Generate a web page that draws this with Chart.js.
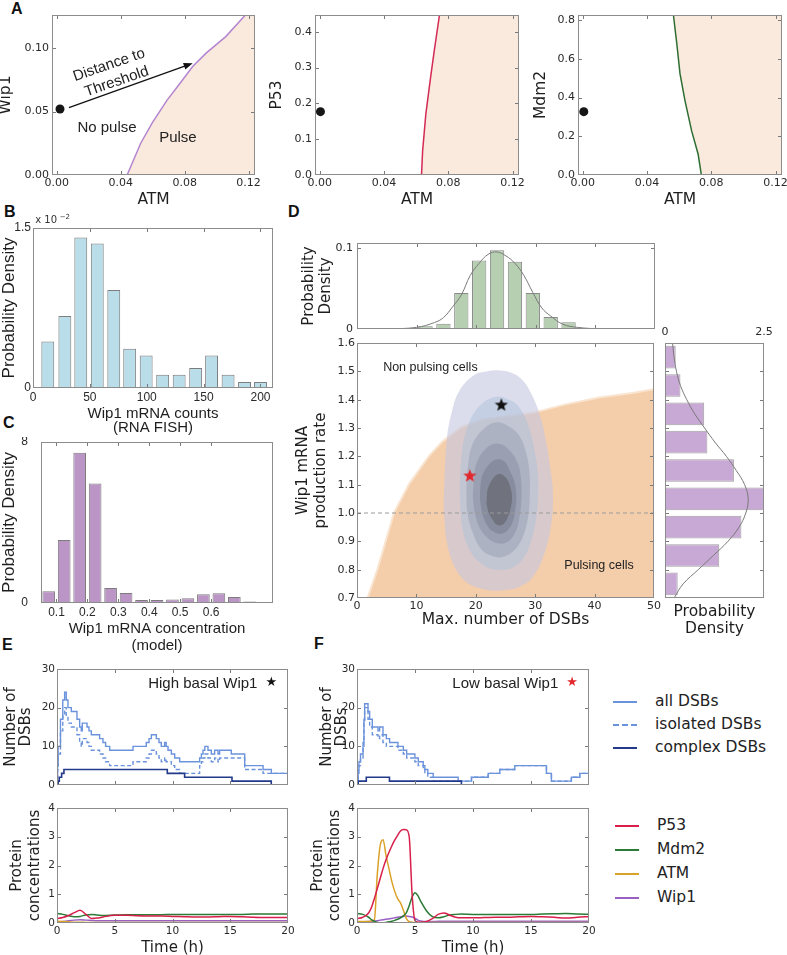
<!DOCTYPE html>
<html>
<head>
<meta charset="utf-8">
<title>Wip1 basal level and DSB pulses</title>
<script src="https://cdn.jsdelivr.net/npm/chart.js@4.4.1/dist/chart.umd.min.js"></script>
<style>
  body { margin: 0; background: #fff; }
  #page { position: relative; width: 787px; height: 955px; overflow: hidden; font-family: "DejaVu Sans", sans-serif; }
  #page canvas { position: absolute; }
  .tag { position: absolute; font: bold 16px "Liberation Sans", Arial, sans-serif; line-height: 16px; color: #111; }
  .key { position: absolute; font-size: 15.5px; color: #222; }
  .key div { line-height: 23px; height: 23px; white-space: nowrap; }
  .key span { display: inline-block; width: 24px; height: 0; vertical-align: middle; margin-right: 18px; }
  .key.prot div { line-height: 24px; height: 24px; }
</style>
</head>
<body>
<div id="page">
  <div class="tag" style="left:11px;top:1px">A</div>
  <div class="tag" style="left:4px;top:204px">B</div>
  <div class="tag" style="left:3px;top:415px">C</div>
  <div class="tag" style="left:288px;top:204px">D</div>
  <div class="tag" style="left:2px;top:637px">E</div>
  <div class="tag" style="left:314px;top:636px">F</div>

  <div class="key" style="left:613px;top:690px">
    <div><span style="border-top:2px solid #6b93dc"></span>all DSBs</div>
    <div><span style="border-top:2px dashed #6b93dc"></span>isolated DSBs</div>
    <div><span style="border-top:2.5px solid #23398a"></span>complex DSBs</div>
  </div>
  <div class="key prot" style="left:615px;top:813px">
    <div><span style="border-top:2.5px solid #d81e4a"></span>P53</div>
    <div><span style="border-top:2.5px solid #2b7a35"></span>Mdm2</div>
    <div><span style="border-top:2.5px solid #dba22a"></span>ATM</div>
    <div><span style="border-top:2.5px solid #9a5fc4"></span>Wip1</div>
  </div>
</div>

<script>
// ---------- A: pulse threshold in each ATM plane ----------
const atmTicks = [0, 0.04, 0.08, 0.12];
const atmRange = [-0.003, 0.124];
const thrAtmWip1 = [0.044, 0.0525, 0.0597, 0.069, 0.077, 0.085, 0.0934, 0.1057, 0.118];
const thrWip1 = [0, 0.025, 0.041, 0.059, 0.072, 0.0855, 0.096, 0.109, 0.126];
const thrAtmP53 = [0.0633, 0.064, 0.066, 0.069, 0.0713, 0.0745];
const thrP53 = [0, 0.067, 0.17, 0.274, 0.349, 0.447];
const thrAtmMdm2 = [0.0738, 0.0718, 0.0677, 0.0636, 0.0605, 0.0585, 0.0564];
const thrMdm2 = [0, 0.107, 0.229, 0.384, 0.523, 0.679, 0.826];
const basalAtm = [0.002, 0.0004, 0.0006];
const basalLevel = [0.052, 0.177, 0.327];
const arrowFrom = [0.0076, 0.053];
const arrowTo = [0.085, 0.088];

// ---------- B: RNA FISH counts ----------
const fishCounts = [13, 28, 42, 56.5, 71, 85, 99.5, 114, 128.5, 143, 157, 171.5, 186, 200];
const fishDensity = [0.436, 0.675, 1.41, 1.354, 0.918, 0.367, 0.305, 0.125, 0.125, 0.187, 0.305, 0.125, 0.056, 0.056];
const fishTicks = [0, 50, 100, 150, 200];

// ---------- C: model concentration ----------
const modelConc = [0.075, 0.125, 0.175, 0.225, 0.275, 0.325, 0.375, 0.425, 0.475, 0.525, 0.575, 0.625, 0.675, 0.725];
const modelDensity = [0.58, 3.13, 7.46, 5.94, 0.74, 0.5, 0.15, 0.15, 0.18, 0.23, 0.43, 0.48, 0.3, 0.07];
const concTicks = [0.1, 0.2, 0.3, 0.4, 0.5, 0.6];

// ---------- D: DSBs vs Wip1 production rate ----------
const dsbBins = [11.5, 14.5, 17.5, 20.5, 23.5, 26.5, 29.5, 32.5, 35.5];
const dsbDensity = [0.0033, 0.0066, 0.0444, 0.0844, 0.097, 0.083, 0.0444, 0.0148, 0.0082];
const dsbFitX = [5, 10, 13, 14.5, 16, 17.5, 19, 20.5, 22, 23.5, 25, 26.5, 28, 29.5, 31, 32.5, 34.5, 37, 41, 50];
const dsbFitY = [0, 0.002, 0.008, 0.014, 0.027, 0.042, 0.066, 0.081, 0.092, 0.095, 0.09, 0.081, 0.066, 0.045, 0.026, 0.016, 0.006, 0.002, 0.0003, 0];
const rateBins = [0.75, 0.85, 0.95, 1.05, 1.15, 1.25, 1.35, 1.45, 1.55];
const rateDensity = [0.32, 1.37, 1.93, 2.5, 1.74, 1.07, 0.99, 0.39, 0.27];
const rateFitY = [0.7, 0.75, 0.8, 0.85, 0.9, 0.95, 1.0, 1.05, 1.1, 1.15, 1.2, 1.25, 1.3, 1.35, 1.4, 1.45, 1.5, 1.55, 1.6];
const rateFitX = [0.23, 0.46, 0.84, 1.22, 1.59, 1.87, 2.04, 2.1, 2.01, 1.8, 1.55, 1.26, 1.0, 0.75, 0.55, 0.39, 0.29, 0.23, 0.19];
const pulseEdgeX = [1.96, 3.6, 5.0, 6.4, 8.9, 12.3, 14.5, 17.6, 21.2, 29.6, 35.2, 40.8, 46.4, 50];
const pulseEdgeY = [0.7, 0.8, 0.9, 1.0, 1.1, 1.2, 1.25, 1.3, 1.327, 1.35, 1.38, 1.404, 1.42, 1.433];
const kde1X = [14.6, 15.1, 16.0, 17.2, 19.6, 22, 24, 26, 27.8, 29.6, 31.0, 31.8, 32.6, 33, 32.7, 31.6, 29.6, 27.4, 25.1, 22.8, 20.5, 18.5, 17.3, 16.0, 15.1, 14.7, 14.6];
const kde1Y = [1.056, 1.256, 1.36, 1.43, 1.485, 1.5, 1.503, 1.495, 1.47, 1.41, 1.33, 1.256, 1.15, 1.06, 0.96, 0.86, 0.774, 0.74, 0.728, 0.726, 0.735, 0.755, 0.78, 0.83, 0.9, 0.98, 1.056];
const kde2X = [17.3, 17.7, 18.4, 19.6, 21, 22.5, 24, 25.5, 26.8, 28, 29, 29.8, 30.4, 30.5, 30.2, 29.3, 28, 26, 24, 22.2, 20.7, 19.2, 17.9, 17.4, 17.3];
const kde2Y = [1.115, 1.22, 1.29, 1.35, 1.385, 1.405, 1.41, 1.4, 1.386, 1.35, 1.3, 1.23, 1.15, 1.07, 0.986, 0.9, 0.84, 0.805, 0.8, 0.805, 0.825, 0.86, 0.93, 1.02, 1.115];
const kde3X = [18.4, 18.7, 19.5, 21.5, 23.5, 25.6, 27.4, 28.5, 29, 29.1, 28.8, 27.8, 26.3, 24.5, 22.9, 21, 19.5, 18.6, 18.4];
const kde3Y = [1.08, 1.17, 1.245, 1.3, 1.32, 1.305, 1.27, 1.21, 1.15, 1.07, 0.986, 0.91, 0.865, 0.845, 0.847, 0.87, 0.93, 1.0, 1.08];
const kde4X = [19.5, 19.7, 20.1, 21.6, 23.5, 25.5, 27.1, 27.6, 27.7, 27.4, 26.8, 25.5, 24, 22.4, 20.9, 19.9, 19.5];
const kde4Y = [1.056, 1.12, 1.174, 1.225, 1.245, 1.225, 1.174, 1.12, 1.056, 0.99, 0.939, 0.9, 0.892, 0.905, 0.939, 0.995, 1.056];
const kde5X = [20.7, 20.8, 21.2, 22.4, 23.7, 24.9, 25.7, 26.5, 26.8, 26.7, 26.3, 25.4, 24.3, 23.1, 22.1, 21.2, 20.7];
const kde5Y = [1.045, 1.1, 1.138, 1.175, 1.19, 1.18, 1.15, 1.11, 1.068, 1.02, 0.974, 0.94, 0.927, 0.933, 0.951, 0.99, 1.045];
const kde6X = [21.8, 21.9, 22.1, 23, 23.9, 24.8, 25.4, 25.9, 26.1, 25.9, 25.4, 24.7, 24, 23.4, 22.9, 22.2, 21.8];
const kde6Y = [1.033, 1.07, 1.09, 1.125, 1.138, 1.13, 1.115, 1.085, 1.056, 1.02, 0.986, 0.962, 0.956, 0.96, 0.974, 1.0, 1.033];
const starDsb = [24.3, 19.0];
const starRate = [1.383, 1.133];
const rateTicks = [0.7, 0.8, 0.9, 1.0, 1.1, 1.2, 1.3, 1.4, 1.5, 1.6];
const dsbTicks = [0, 10, 20, 30, 40, 50];

// ---------- E/F: DSB counts over time ----------
const eStepT = [0, 0.05, 0.1, 0.3, 0.5, 0.66, 0.8, 0.95, 1.24, 1.73, 1.96, 2.1, 2.19, 2.6, 2.77, 2.97, 3.69, 3.98, 4.21, 4.56, 6.58, 7.73, 7.97, 8.17, 8.6, 8.83, 9.03, 9.32, 9.45, 9.61, 9.9, 10.19, 10.62, 12.35, 12.5, 12.64, 12.8, 13.07, 13.36, 13.65, 13.94, 14.08, 15.09, 16.25, 17.84, 18.56, 20];
const eAll = [0, 5, 10, 17, 22, 24, 22, 20, 19, 17, 15, 14, 16, 15, 14, 13, 12, 11, 10, 9, 10, 11, 12, 13, 12, 11, 10, 11, 10, 9, 8, 7, 6, 7, 8, 9, 10, 9, 8, 9, 8, 9, 8, 5, 4, 3, 3];
const eIso = [0, 4, 8, 14, 18, 20, 18, 16, 15, 13, 11, 10, 12, 11, 10, 9, 8, 7, 6, 5, 6, 7, 8, 9, 8, 7, 6, 7, 6, 6, 5, 4, 3, 5, 6, 7, 8, 7, 6, 7, 6, 7, 7, 4, 3, 3, 3];
const eCxT = [0, 0.1, 0.2, 0.4, 0.6, 9.55, 11.05, 15.15, 18.55, 20];
const eCx = [0, 1, 2, 3, 4, 3, 2, 1, 0, 0];
const fStepT = [0, 0.1, 0.17, 0.3, 0.52, 0.6, 0.66, 0.95, 1.09, 1.32, 1.81, 1.95, 2.24, 2.53, 2.81, 3.53, 3.99, 4.28, 4.99, 5.28, 5.71, 5.85, 6.1, 6.57, 8.72, 9.87, 11.31, 12.31, 13.6, 16.33, 16.76, 18.48, 19.2, 20];
const fAll = [0, 4, 6, 8, 11, 17, 21, 19, 17, 15, 14, 15, 13, 12, 11, 10, 9, 8, 7, 6, 5, 4, 3, 2, 1, 2, 3, 4, 5, 3, 1, 2, 3, 3];
const fIso = [0, 3, 5, 7, 10, 16, 20, 17, 15, 13, 12, 13, 11, 10, 10, 9, 8, 7, 6, 5, 4, 3, 2, 1, 1, 2, 3, 4, 5, 3, 1, 2, 3, 3];
const fCxT = [0, 0.1, 0.8, 2.8, 9.0, 20];
const fCx = [0, 1, 2, 1, 0, 0];

// ---------- E/F: protein concentrations ----------
const eTime = [0, 0.5, 1, 1.5, 2, 2.5, 3, 3.5, 4, 5, 6, 7, 8, 9, 10, 11, 12, 13, 14, 15, 16, 17, 18, 19, 20];
const eP53 = [0.15, 0.19, 0.26, 0.36, 0.44, 0.3, 0.16, 0.17, 0.21, 0.27, 0.27, 0.25, 0.24, 0.24, 0.23, 0.22, 0.21, 0.21, 0.22, 0.23, 0.22, 0.2, 0.19, 0.19, 0.19];
const eMdm2 = [0.33, 0.3, 0.25, 0.22, 0.23, 0.28, 0.3, 0.28, 0.26, 0.28, 0.29, 0.29, 0.29, 0.29, 0.3, 0.3, 0.3, 0.3, 0.3, 0.3, 0.3, 0.31, 0.31, 0.31, 0.31];
const eAtm = [0.06, 0.05, 0.04, 0.03, 0.03, 0.02, 0.02, 0.02, 0.02, 0.02, 0.02, 0.02, 0.02, 0.02, 0.02, 0.02, 0.02, 0.02, 0.02, 0.02, 0.02, 0.02, 0.02, 0.02, 0.02];
const eWip1 = [0.03, 0.05, 0.08, 0.1, 0.11, 0.1, 0.09, 0.08, 0.08, 0.08, 0.08, 0.08, 0.08, 0.08, 0.08, 0.08, 0.08, 0.08, 0.08, 0.08, 0.08, 0.08, 0.08, 0.08, 0.08];
const fTime = [0, 0.5, 1, 1.25, 1.5, 1.75, 2, 2.25, 2.5, 2.75, 3, 3.25, 3.5, 3.75, 4, 4.25, 4.5, 4.75, 5, 5.25, 5.5, 6, 6.5, 7, 7.5, 8, 8.5, 9, 10, 11, 12, 13, 14, 15, 16, 17, 18, 19, 20];
const fP53 = [0.15, 0.2, 0.35, 0.55, 0.85, 1.2, 1.55, 1.9, 2.2, 2.45, 2.68, 2.88, 3.05, 3.2, 3.25, 3.24, 3.0, 1.0, 0.08, 0.03, 0.03, 0.05, 0.15, 0.3, 0.35, 0.27, 0.2, 0.18, 0.18, 0.19, 0.2, 0.2, 0.22, 0.23, 0.22, 0.2, 0.17, 0.2, 0.22];
const fMdm2 = [0.33, 0.3, 0.2, 0.12, 0.06, 0.02, 0.01, 0.01, 0.02, 0.04, 0.06, 0.09, 0.13, 0.18, 0.25, 0.35, 0.6, 0.9, 1.05, 0.95, 0.75, 0.42, 0.22, 0.18, 0.22, 0.28, 0.3, 0.31, 0.3, 0.3, 0.3, 0.3, 0.3, 0.3, 0.31, 0.32, 0.33, 0.31, 0.3];
const fAtm = [0.05, 0.05, 0.05, 0.07, 0.12, 1.7, 2.7, 2.9, 2.35, 1.9, 1.45, 1.1, 0.85, 0.7, 0.44, 0.16, 0.05, 0.03, 0.02, 0.02, 0.02, 0.02, 0.02, 0.02, 0.02, 0.02, 0.02, 0.02, 0.02, 0.02, 0.02, 0.02, 0.02, 0.02, 0.02, 0.02, 0.02, 0.02, 0.02];
const fWip1 = [0.03, 0.04, 0.05, 0.06, 0.07, 0.08, 0.1, 0.11, 0.13, 0.14, 0.16, 0.18, 0.2, 0.22, 0.23, 0.24, 0.23, 0.21, 0.17, 0.1, 0.07, 0.05, 0.05, 0.06, 0.06, 0.06, 0.06, 0.06, 0.06, 0.06, 0.06, 0.06, 0.06, 0.06, 0.06, 0.06, 0.06, 0.06, 0.06];
const timeTicks = [0, 5, 10, 15, 20];
const dsbCountTicks = [0, 10, 20, 30];
const concLevelTicks = [0, 1, 2, 3, 4];

// ---------- helpers ----------
const dejavu = '"DejaVu Sans", sans-serif';
const arial = '"Liberation Sans", Arial, sans-serif';
const peach = '#f9eadd';
const blue = '#6b93dc', navy = '#23398a';
const red = '#d81e4a', green = '#2b7a35', gold = '#dba22a', purple = '#9a5fc4';

Chart.defaults.animation = false;
Chart.defaults.responsive = false;
Chart.defaults.plugins.legend.display = false;
Chart.defaults.plugins.tooltip.enabled = false;
Chart.defaults.elements.point.radius = 0;

function place(x, y, w, h) {
  const c = document.createElement('canvas');
  c.width = w; c.height = h;
  c.style.left = x + 'px'; c.style.top = y + 'px';
  document.getElementById('page').appendChild(c);
  return c;
}
function pts(xs, ys) { return xs.map((x, i) => ({ x: x, y: ys[i] })); }
function region(xs, ys, xMax) {
  const p = pts(xs, ys);
  p.push({ x: xMax, y: ys[ys.length - 1] }, { x: xMax, y: ys[0] });
  return p;
}
function starMark(color, size) {
  const c = document.createElement('canvas');
  c.width = c.height = size;
  const g = c.getContext('2d');
  g.fillStyle = color;
  g.beginPath();
  for (let i = 0; i < 10; i++) {
    const r = i % 2 ? size * 0.21 : size * 0.5;
    const a = -Math.PI / 2 + i * Math.PI / 5;
    g.lineTo(size / 2 + r * Math.cos(a), size * 0.55 + r * Math.sin(a));
  }
  g.closePath();
  g.fill();
  return c;
}

function axis(o) {
  return {
    type: 'linear', position: o.pos, min: o.min, max: o.max, offset: false,
    grid: { display: false, drawTicks: false }, border: { display: false },
    afterBuildTicks: s => { s.ticks = o.ticks.map(v => ({ value: v })); },
    ticks: {
      display: !!o.fmt, autoSkip: false, maxRotation: 0, padding: o.pad ?? 2, color: '#2a2a2a',
      font: { family: o.family || dejavu, size: o.fs || 11 },
      callback: v => (o.fmt ? o.fmt(v) : '')
    },
    title: {
      display: !!o.title, text: o.title || '', color: '#1e1e1e',
      padding: { top: o.tpad || 0, bottom: o.tpad || 0 },
      font: { family: o.tfamily || dejavu, size: o.tfs || 15, lineHeight: o.tlh || 1.2 }
    },
    afterFit: s => {
      if (s.isHorizontal()) { s.height = o.size; s.paddingLeft = 0; s.paddingRight = 0; }
      else { s.width = o.size; s.paddingTop = 0; s.paddingBottom = 0; }
    }
  };
}
const f1 = v => v.toFixed(1), f2 = v => v.toFixed(2), plain = v => String(v);

// box + inward tick marks, matplotlib-ish
const framePlugin = {
  id: 'frame',
  afterDatasetsDraw(chart, args, opts) {
    const { ctx, chartArea: a } = chart;
    const skip = opts.skip || [];
    ctx.save();
    ctx.lineWidth = 1;
    ctx.strokeStyle = '#7a7a7a';
    ctx.beginPath();
    Object.values(chart.scales).forEach(s => {
      if (skip.includes(s.id)) return;
      s.ticks.forEach(t => {
        const p = Math.round(s.getPixelForValue(t.value)) + 0.5;
        if (s.isHorizontal()) {
          if (p < a.left + 2 || p > a.right - 2) return;
          ctx.moveTo(p, a.bottom); ctx.lineTo(p, a.bottom - 4);
          ctx.moveTo(p, a.top); ctx.lineTo(p, a.top + 4);
        } else {
          if (p < a.top + 2 || p > a.bottom - 2) return;
          ctx.moveTo(a.left, p); ctx.lineTo(a.left + 4, p);
          ctx.moveTo(a.right, p); ctx.lineTo(a.right - 4, p);
        }
      });
    });
    ctx.stroke();
    ctx.strokeStyle = '#8c8c8c';
    ctx.strokeRect(Math.round(a.left) + 0.5, Math.round(a.top) + 0.5, Math.round(a.width) - 1, Math.round(a.height) - 1);
    ctx.restore();
  }
};

// text and arrow annotations placed in data coordinates
const notesPlugin = {
  id: 'notes',
  afterDatasetsDraw(chart, args, opts) {
    const { ctx } = chart;
    const sx = chart.scales.x, sy = chart.scales.y;
    (opts.items || []).forEach(n => {
      ctx.save();
      ctx.font = n.font || ('12px ' + arial);
      ctx.fillStyle = n.color || '#222';
      ctx.textAlign = n.align || 'left';
      ctx.textBaseline = 'middle';
      ctx.translate(sx.getPixelForValue(n.x), sy.getPixelForValue(n.y));
      if (n.rot) ctx.rotate(n.rot * Math.PI / 180);
      ctx.fillText(n.text, 0, 0);
      ctx.restore();
    });
    if (opts.arrow) {
      const x0 = sx.getPixelForValue(opts.arrow.from[0]), y0 = sy.getPixelForValue(opts.arrow.from[1]);
      const x1 = sx.getPixelForValue(opts.arrow.to[0]), y1 = sy.getPixelForValue(opts.arrow.to[1]);
      const ang = Math.atan2(y1 - y0, x1 - x0);
      ctx.save();
      ctx.strokeStyle = '#111'; ctx.fillStyle = '#111'; ctx.lineWidth = 1.3;
      ctx.beginPath(); ctx.moveTo(x0, y0); ctx.lineTo(x1 - 7 * Math.cos(ang), y1 - 7 * Math.sin(ang)); ctx.stroke();
      ctx.translate(x1, y1); ctx.rotate(ang);
      ctx.beginPath(); ctx.moveTo(0, 0); ctx.lineTo(-9, -3.5); ctx.lineTo(-9, 3.5); ctx.closePath(); ctx.fill();
      ctx.restore();
    }
  }
};
Chart.register(framePlugin, notesPlugin);

// ---------- A ----------
function thresholdPanel(cv, xs, ys, yMax, yTicks, yFmt, yLabel, edgeColor, k, yW, padR, notes, arrow) {
  return new Chart(cv, {
    type: 'scatter',
    data: {
      datasets: [
        { data: [{ x: basalAtm[k], y: basalLevel[k] }], pointRadius: 4.5, backgroundColor: '#161616', borderWidth: 0, order: 1 },
        { data: pts(xs, ys), showLine: true, borderColor: edgeColor, borderWidth: 1.5, order: 2 },
        { data: region(xs, ys, atmRange[1]), showLine: true, fill: 'shape', backgroundColor: peach, borderWidth: 0, order: 3 }
      ]
    },
    options: {
      layout: { padding: { top: 15, right: padR, left: 0, bottom: 0 } },
      scales: {
        x: axis({ pos: 'bottom', min: atmRange[0], max: atmRange[1], ticks: atmTicks, fmt: f2, size: 37, title: 'ATM', tfs: 15.5, tpad: 2.7 }),
        y: axis({ pos: 'left', min: 0, max: yMax, ticks: yTicks, fmt: yFmt, size: yW, pad: 3, title: yLabel, tfs: 15.5 })
      },
      plugins: { notes: { items: notes, arrow: arrow } }
    }
  });
}
thresholdPanel(place(-3, 0, 265, 212), thrAtmWip1, thrWip1, 0.126, [0, 0.05, 0.1], f2, 'Wip1', '#b585d0', 0, 55, 7, [
  { text: 'Distance to', x: 0.0327, y: 0.0866, rot: -19, align: 'center', font: '15px ' + arial },
  { text: 'Threshold', x: 0.0375, y: 0.0735, rot: -19, align: 'center', font: '15px ' + arial },
  { text: 'No pulse', x: 0.0314, y: 0.037, align: 'center', font: '15px ' + arial },
  { text: 'Pulse', x: 0.0758, y: 0.029, align: 'center', font: '15px ' + arial }
], { from: arrowFrom, to: arrowTo });
thresholdPanel(place(268, 0, 259, 212), thrAtmP53, thrP53, 0.447, [0, 0.1, 0.2, 0.3, 0.4], f1, 'P53', '#d42a55', 1, 47, 8, []);
thresholdPanel(place(532, 0, 255, 212), thrAtmMdm2, thrMdm2, 0.826, [0, 0.2, 0.4, 0.6, 0.8], f1, 'Mdm2', '#2f6e33', 2, 46, 5, []);

// ---------- B ----------
new Chart(place(-1, 205, 291, 235), {
  type: 'bar',
  data: { datasets: [{ data: pts(fishCounts, fishDensity), backgroundColor: 'rgba(173,216,230,0.85)', borderColor: '#7d7d7d', borderWidth: 1, borderSkipped: false, barPercentage: 0.81, categoryPercentage: 1 }] },
  options: {
    layout: { padding: { top: 23, right: 17, left: 0, bottom: 0 } },
    scales: {
      x: axis({ pos: 'bottom', min: 0, max: 211, ticks: fishTicks, fmt: plain, family: arial, fs: 12, size: 52, title: ['Wip1 mRNA counts', '(RNA FISH)'], tfamily: arial, tfs: 15, tlh: 0.95, tpad: 4.9 }),
      y: axis({ pos: 'left', min: 0, max: 1.5, ticks: [0, 1.5], fmt: plain, family: arial, fs: 12, size: 34, title: 'Probability Density', tfamily: arial, tfs: 17, pad: 2 })
    },
    plugins: { notes: { items: [
      { text: 'x 10', x: 2, y: 1.575, font: '10px ' + dejavu, color: '#333' },
      { text: '\u22122', x: 23.5, y: 1.605, font: '7px ' + dejavu, color: '#333' }
    ] } }
  }
});

// ---------- C ----------
new Chart(place(-1, 437, 291, 218), {
  type: 'bar',
  data: { datasets: [{ data: pts(modelConc, modelDensity), backgroundColor: '#bb95c5', borderColor: '#7d7d7d', borderWidth: 1, borderSkipped: false, barPercentage: 0.82, categoryPercentage: 1 }] },
  options: {
    layout: { padding: { top: 5, right: 17, left: 0, bottom: 0 } },
    scales: {
      x: axis({ pos: 'bottom', min: 0.05, max: 0.8, ticks: concTicks, fmt: f1, family: arial, fs: 12, size: 52, title: ['Wip1 mRNA concentration', '(model)'], tfamily: arial, tfs: 15, tlh: 1.13, tpad: 0.5 }),
      y: axis({ pos: 'left', min: 0, max: 8, ticks: [0, 8], fmt: plain, family: arial, fs: 12, size: 42, title: 'Probability Density', tfamily: arial, tfs: 17, pad: 13 })
    }
  }
});

// ---------- D: top histogram ----------
new Chart(place(300, 225, 362, 108), {
  type: 'bar',
  data: {
    datasets: [
      { type: 'line', data: pts(dsbFitX, dsbFitY), borderColor: '#7a7a7a', borderWidth: 1, tension: 0.4, order: 1 },
      { data: pts(dsbBins, dsbDensity), backgroundColor: '#b6cfb1', borderColor: '#8a8a8a', borderWidth: 1, borderSkipped: false, barPercentage: 0.8, categoryPercentage: 1, order: 2 }
    ]
  },
  options: {
    layout: { padding: { top: 18, right: 7, left: 0, bottom: 0 } },
    scales: {
      x: axis({ pos: 'bottom', min: 0, max: 50, ticks: dsbTicks, size: 4 }),
      y: axis({ pos: 'left', min: 0, max: 0.106, ticks: [0, 0.1], fmt: plain, size: 57, pad: 4, title: ['Probability', 'Density'], tfs: 15, tlh: 1.15 })
    }
  }
});

// ---------- D: main map ----------
const kdeFill = ['rgba(198,200,224,0.62)', 'rgba(168,190,218,0.45)', 'rgba(145,152,174,0.42)', 'rgba(128,134,154,0.42)', 'rgba(114,118,134,0.45)', 'rgba(92,92,98,0.55)'];
const kdeX = [kde1X, kde2X, kde3X, kde4X, kde5X, kde6X];
const kdeY = [kde1Y, kde2Y, kde3Y, kde4Y, kde5Y, kde6Y];
const mainSets = [
  { data: pts(starDsb, starRate), pointStyle: [starMark('#111', 14), starMark('#e0282e', 14)], pointRadius: 7, order: 0 },
  { data: [{ x: 0, y: 1 }, { x: 50, y: 1 }], showLine: true, borderColor: '#9a9a9a', borderWidth: 1, borderDash: [4, 3], order: 1 },
  { data: region(pulseEdgeX, pulseEdgeY, 50), showLine: true, fill: 'shape', backgroundColor: '#f4cdaa', borderColor: 'rgba(244,205,170,0.55)', borderWidth: 4, order: 20 }
];
kdeX.forEach((xs, i) => {
  mainSets.push({ data: pts(xs, kdeY[i]), showLine: true, fill: 'shape', backgroundColor: kdeFill[i], borderWidth: 0, tension: 0.4, order: 15 - i });
});
new Chart(place(294, 335, 368, 297), {
  type: 'scatter',
  data: { datasets: mainSets },
  options: {
    layout: { padding: { top: 8, right: 7, left: 0, bottom: 0 } },
    scales: {
      x: axis({ pos: 'bottom', min: 0, max: 50, ticks: dsbTicks, fmt: plain, size: 34, title: 'Max. number of DSBs', tfs: 15.5, tpad: 2.7 }),
      y: axis({ pos: 'left', min: 0.7, max: 1.6, ticks: rateTicks, fmt: f1, size: 63, pad: 2, title: ['Wip1 mRNA', 'production rate'], tfs: 15, tlh: 1.2 })
    },
    plugins: { notes: { items: [
      { text: 'Non pulsing cells', x: 4.4, y: 1.513, font: '12.5px ' + arial },
      { text: 'Pulsing cells', x: 34.9, y: 0.816, font: '12.5px ' + arial }
    ] } }
  }
});

// ---------- D: right histogram ----------
new Chart(place(662, 320, 125, 320), {
  type: 'bar',
  data: {
    datasets: [
      { type: 'line', indexAxis: 'y', data: pts(rateFitX, rateFitY), borderColor: '#7a7a7a', borderWidth: 1, tension: 0.4, order: 1 },
      { data: pts(rateDensity, rateBins), backgroundColor: '#c8a8d4', borderColor: '#a0a0a0', borderWidth: 1, borderSkipped: false, barPercentage: 0.8, categoryPercentage: 1, order: 2 }
    ]
  },
  options: {
    indexAxis: 'y',
    layout: { padding: { top: 0, right: 23, left: 0, bottom: 0 } },
    scales: {
      x: axis({ pos: 'top', min: 0, max: 2.5, ticks: [0, 2.5], fmt: plain, size: 23, pad: 4 }),
      x2: axis({ pos: 'bottom', min: 0, max: 2.5, ticks: [0, 2.5], size: 42, title: ['Probability', 'Density'], tfs: 15.5, tlh: 1.1, tpad: 2.5 }),
      y: axis({ pos: 'left', min: 0.7, max: 1.6, ticks: rateTicks, size: 3 })
    },
    plugins: { frame: { skip: ['x2'] } }
  }
});

// ---------- E/F: DSB counts ----------
function dsbPanel(cv, yW, padR, t, all, iso, cxT, cx, label, starColor) {
  return new Chart(cv, {
    type: 'line',
    data: {
      datasets: [
        { data: pts(cxT, cx), stepped: true, borderColor: navy, borderWidth: 1.6, order: 1 },
        { data: pts(t, all), stepped: true, borderColor: blue, borderWidth: 1.4, order: 2 },
        { data: pts(t, iso), stepped: true, borderColor: blue, borderWidth: 1.4, borderDash: [4, 2.5], order: 3 }
      ]
    },
    options: {
      layout: { padding: { top: 14, right: padR, left: 0, bottom: 0 } },
      scales: {
        x: axis({ pos: 'bottom', min: 0, max: 20, ticks: timeTicks, size: 4 }),
        y: axis({ pos: 'left', min: 0, max: 30, ticks: dsbCountTicks, fmt: plain, fs: 10.5, size: yW, title: ['Number of', 'DSBs'], tfs: 15, tlh: 1.02 })
      },
      plugins: { notes: { items: [
        { text: label, x: 17.35, y: 26.1, align: 'right', font: '15px ' + arial },
        { text: '\u2605', x: 18.55, y: 26.4, align: 'center', font: '13px ' + dejavu, color: starColor }
      ] } }
    }
  });
}
dsbPanel(place(3, 655, 297, 134), 54, 12, eStepT, eAll, eIso, eCxT, eCx, 'High basal Wip1', '#111');
dsbPanel(place(319, 655, 281, 134), 38, 11, fStepT, fAll, fIso, fCxT, fCx, 'Low basal Wip1', '#e0282e');

// ---------- E/F: protein concentrations ----------
function proteinPanel(cv, yW, tlh, t, p53, mdm2, atm, wip1) {
  const line = (ys, c, ord) => ({ data: pts(t, ys), borderColor: c, borderWidth: 1.5, cubicInterpolationMode: 'monotone', order: ord });
  return new Chart(cv, {
    type: 'line',
    data: { datasets: [line(p53, red, 1), line(mdm2, green, 2), line(atm, gold, 3), line(wip1, purple, 4)] },
    options: {
      layout: { padding: { top: 13, right: 11, left: 0, bottom: 0 } },
      scales: {
        x: axis({ pos: 'bottom', min: 0, max: 20, ticks: timeTicks, fmt: plain, fs: 10.5, size: 37, title: 'Time (h)', tfs: 15, tpad: 3 }),
        y: axis({ pos: 'left', min: 0, max: 4, ticks: concLevelTicks, fmt: plain, fs: 10.5, size: yW, title: ['Protein', 'concentrations'], tfs: 15, tlh: tlh })
      }
    }
  });
}
proteinPanel(place(8, 795, 291, 165), 49, 1.2, eTime, eP53, eMdm2, eAtm, eWip1);
proteinPanel(place(310, 795, 290, 165), 47, 1.1, fTime, fP53, fMdm2, fAtm, fWip1);
</script>
</body>
</html>
